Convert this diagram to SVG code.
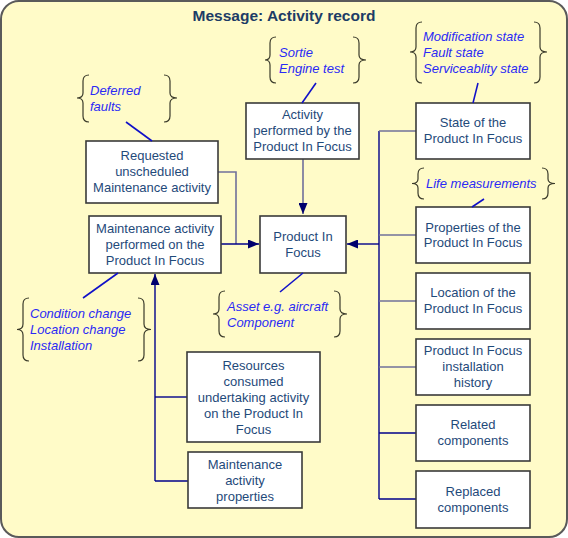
<svg xmlns="http://www.w3.org/2000/svg" width="568" height="538" viewBox="0 0 568 538">
<defs>
<marker id="arr" markerWidth="11" markerHeight="9" refX="11" refY="4.5" orient="auto" markerUnits="userSpaceOnUse">
<path d="M0,0 L11,4.5 L0,9 Z" fill="#00006e"/>
</marker>
<style>
.frame{fill:#fffbc8;stroke:#5a5a5a;stroke-width:2}
.title{font-family:"Liberation Sans",Arial,sans-serif;font-size:15.5px;font-weight:bold;fill:#1c3c66;text-anchor:middle}
.box{fill:#ffffff;stroke:#3a3a3a;stroke-width:1.6}
.nt{font-family:"Liberation Sans",Arial,sans-serif;font-size:13px;fill:#1f4a7a;text-anchor:middle}
.an{font-family:"Liberation Sans",Arial,sans-serif;font-size:13px;font-style:italic;fill:#2a2af5}
.brace{fill:none;stroke:#3a3a2a;stroke-width:1.2}
.lnk{fill:none;stroke:#1010c8;stroke-width:1.6}
.c1{fill:none;stroke:#00008b;stroke-width:1.4}
.c2{fill:none;stroke:#70709a;stroke-width:1.6}
</style>
</defs>
<rect class="frame" x="1" y="1" width="566" height="536" rx="18" ry="18"/>
<text class="title" x="284" y="21">Message: Activity record</text>

<g id="connectors">
<path class="c2" d="M303,159 L303,214" marker-end="url(#arr)"/>
<path class="c2" d="M218,172 L236,172 L236,244"/>
<path class="c1" d="M221,244 L259,244" marker-end="url(#arr)"/>
<path class="c1" d="M379,244 L347,244" marker-end="url(#arr)"/>
<path class="c1" d="M379,131 L379,499"/>
<path class="c2" d="M379,131 L416,131"/>
<path class="c2" d="M379,235 L416,235"/>
<path class="c2" d="M379,301 L416,301"/>
<path class="c2" d="M379,367 L416,367"/>
<path class="c1" d="M379,433 L416,433"/>
<path class="c1" d="M379,499 L416,499"/>
<path class="c1" d="M155,481 L155,274" marker-end="url(#arr)"/>
<path class="c1" d="M155,397 L187,397"/>
<path class="c1" d="M155,481 L188,481"/>
</g>

<g id="node-requested">
<rect class="box" x="86" y="141" width="132" height="62"/>
<text class="nt" x="152" y="160">Requested</text>
<text class="nt" x="152" y="176">unscheduled</text>
<text class="nt" x="152" y="192">Maintenance activity</text>
</g>
<g id="node-maint-performed">
<rect class="box" x="89" y="216" width="132" height="57"/>
<text class="nt" x="155" y="233">Maintenance activity</text>
<text class="nt" x="155" y="249">performed on the</text>
<text class="nt" x="155" y="265">Product In Focus</text>
</g>
<g id="node-activity-performed">
<rect class="box" x="246" y="103" width="113" height="56"/>
<text class="nt" x="302.5" y="119">Activity</text>
<text class="nt" x="302.5" y="135">performed by the</text>
<text class="nt" x="302.5" y="151">Product In Focus</text>
</g>
<g id="node-pif">
<rect class="box" x="260" y="216" width="86" height="57"/>
<text class="nt" x="303" y="241">Product In</text>
<text class="nt" x="303" y="257">Focus</text>
</g>
<g id="node-state">
<rect class="box" x="416" y="103" width="114" height="56"/>
<text class="nt" x="473" y="127">State of the</text>
<text class="nt" x="473" y="143">Product In Focus</text>
</g>
<g id="node-properties">
<rect class="box" x="416" y="207" width="114" height="56"/>
<text class="nt" x="473" y="232">Properties of the</text>
<text class="nt" x="473" y="247">Product In Focus</text>
</g>
<g id="node-location">
<rect class="box" x="416" y="273" width="114" height="56"/>
<text class="nt" x="473" y="297">Location of the</text>
<text class="nt" x="473" y="313">Product In Focus</text>
</g>
<g id="node-installation">
<rect class="box" x="416" y="339" width="114" height="56"/>
<text class="nt" x="473" y="355">Product In Focus</text>
<text class="nt" x="473" y="371">installation</text>
<text class="nt" x="473" y="387">history</text>
</g>
<g id="node-related">
<rect class="box" x="416" y="405" width="114" height="56"/>
<text class="nt" x="473" y="429">Related</text>
<text class="nt" x="473" y="445">components</text>
</g>
<g id="node-replaced">
<rect class="box" x="416" y="471" width="114" height="57"/>
<text class="nt" x="473" y="496">Replaced</text>
<text class="nt" x="473" y="512">components</text>
</g>
<g id="node-resources">
<rect class="box" x="187" y="352" width="133" height="90"/>
<text class="nt" x="253.5" y="370">Resources</text>
<text class="nt" x="253.5" y="386">consumed</text>
<text class="nt" x="253.5" y="402">undertaking activity</text>
<text class="nt" x="253.5" y="418">on the Product In</text>
<text class="nt" x="253.5" y="434">Focus</text>
</g>
<g id="node-maint-props">
<rect class="box" x="188" y="452" width="114" height="56"/>
<text class="nt" x="245" y="469">Maintenance</text>
<text class="nt" x="245" y="485">activity</text>
<text class="nt" x="245" y="501">properties</text>
</g>

<g id="note-deferred">
<path class="brace" d="M89,75 Q83,75 83,81 L83,93 Q83,98 77,98 Q83,98 83,103 L83,116 Q83,122 89,122"/>
<path class="brace" d="M164,75 Q170,75 170,81 L170,93 Q170,98 177,98 Q170,98 170,103 L170,116 Q170,122 164,122"/>
<text class="an" x="90" y="95">Deferred</text>
<text class="an" x="90" y="111">faults</text>
<path class="lnk" d="M126,122 L152,141"/>
</g>
<g id="note-sortie">
<path class="brace" d="M276,37 Q270,37 270,43 L270,55 Q270,60 265,60 Q270,60 270,65 L270,77 Q270,83 276,83"/>
<path class="brace" d="M353,37 Q359,37 359,43 L359,55 Q359,60 366,60 Q359,60 359,65 L359,77 Q359,83 353,83"/>
<text class="an" x="279" y="57">Sortie</text>
<text class="an" x="279" y="73">Engine test</text>
<path class="lnk" d="M316,83 L302,103"/>
</g>
<g id="note-state">
<path class="brace" d="M422,22 Q416,22 416,28 L416,47 Q416,52 410,52 Q416,52 416,57 L416,77 Q416,83 422,83"/>
<path class="brace" d="M534,22 Q540,22 540,28 L540,47 Q540,52 547,52 Q540,52 540,57 L540,77 Q540,83 534,83"/>
<text class="an" x="423" y="41">Modification state</text>
<text class="an" x="423" y="57">Fault state</text>
<text class="an" x="423" y="73">Serviceablity state</text>
<path class="lnk" d="M478,83 L473,103"/>
</g>
<g id="note-life">
<path class="brace" d="M424,168 Q418,168 418,174 L418,179 Q418,183.5 412,183.5 Q418,183.5 418,188 L418,193 Q418,199 424,199"/>
<path class="brace" d="M542,168 Q548,168 548,174 L548,179 Q548,183.5 555,183.5 Q548,183.5 548,188 L548,193 Q548,199 542,199"/>
<text class="an" x="426" y="188">Life measurements</text>
<path class="lnk" d="M484,199 L472,207"/>
</g>
<g id="note-asset">
<path class="brace" d="M225,291 Q219,291 219,297 L219,309 Q219,314 213,314 Q219,314 219,319 L219,331 Q219,337 225,337"/>
<path class="brace" d="M334,291 Q340,291 340,297 L340,309 Q340,314 347,314 Q340,314 340,319 L340,331 Q340,337 334,337"/>
<text class="an" x="227" y="311">Asset e.g. aircraft</text>
<text class="an" x="227" y="327">Component</text>
<path class="lnk" d="M280,292 L303,273"/>
</g>
<g id="note-condition">
<path class="brace" d="M29,298 Q23,298 23,304 L23,324 Q23,329.5 17,329.5 Q23,329.5 23,335 L23,355 Q23,361 29,361"/>
<path class="brace" d="M138,298 Q144,298 144,304 L144,324 Q144,329.5 151,329.5 Q144,329.5 144,335 L144,355 Q144,361 138,361"/>
<text class="an" x="30" y="318">Condition change</text>
<text class="an" x="30" y="334">Location change</text>
<text class="an" x="30" y="350">Installation</text>
<path class="lnk" d="M83,298 L118,273"/>
</g>
</svg>
